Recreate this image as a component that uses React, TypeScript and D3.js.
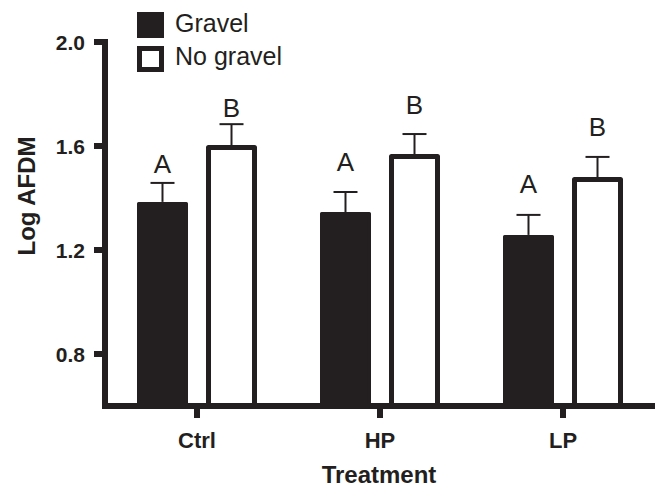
import React from 'react';
import { scaleBand, scaleLinear } from 'd3';

const treatments = ['Ctrl', 'HP', 'LP'];
const groups = ['Gravel', 'No gravel'];
const gravelMeans = [1.385, 1.346, 1.258];
const gravelSE = [0.073, 0.077, 0.077];
const noGravelMeans = [1.594, 1.56, 1.471];
const noGravelSE = [0.09, 0.086, 0.087];
const gravelLetters = ['A', 'A', 'A'];
const noGravelLetters = ['B', 'B', 'B'];
// level (in data units) where each letter sits
const gravelLetterAt = [1.496, 1.504, 1.419];
const noGravelLetterAt = [1.712, 1.723, 1.638];
const yTicks = [0.8, 1.2, 1.6, 2.0];

const ink = '#231f20';
const font = '"Liberation Sans", Arial, sans-serif';

const App = () => {
    const width = 655;
    const height = 487;

    const y = scaleLinear().domain([0.6, 2.0]).range([406, 42]);
    const x = scaleBand().domain(treatments).range([105.5, 654.5]).padding(0);
    const inner = scaleBand().domain(groups).range([-60, 60]).paddingInner(0.261).paddingOuter(0);
    const bw = inner.bandwidth();
    const base = y(0.6);

    const series = [
        { key: groups[0], means: gravelMeans, se: gravelSE, letters: gravelLetters, at: gravelLetterAt },
        { key: groups[1], means: noGravelMeans, se: noGravelSE, letters: noGravelLetters, at: noGravelLetterAt },
    ];

    return (
        <svg width={width} height={height} style={{ position: 'absolute', left: 0, top: 0 }}>
            <rect width={width} height={height} fill="white" />

            {/* bars */}
            {series.map((s, si) =>
                treatments.map((t, i) => {
                    const cx = (x(t) as number) + x.bandwidth() / 2;
                    const bx = cx + (inner(s.key) as number);
                    const top = y(s.means[i]);
                    const mid = bx + bw / 2;
                    const capW = 24;
                    const errTop = y(s.means[i] + s.se[i]);
                    return (
                        <g key={s.key + t}>
                            <line x1={mid} x2={mid} y1={top} y2={errTop} stroke={ink} strokeWidth={2} />
                            <line x1={mid - capW / 2} x2={mid + capW / 2} y1={errTop} y2={errTop} stroke={ink} strokeWidth={2} />
                            {si === 0 ? (
                                <rect x={bx + 1.5} y={top + 1.5} width={bw - 3} height={base - top} fill={ink}
                                    stroke={ink} strokeWidth={3} strokeLinejoin="round" />
                            ) : (
                                <rect x={bx + 2.5} y={top} width={bw - 5} height={base - top} fill="white"
                                    stroke={ink} strokeWidth={5} strokeLinejoin="round" />
                            )}
                            <text x={mid} y={y(s.at[i])} textAnchor="middle" fontFamily={font} fontSize={26} fill={ink}>
                                {s.letters[i]}
                            </text>
                        </g>
                    );
                })
            )}

            {/* y axis */}
            <line x1={105} x2={105} y1={y(2.0) - 3} y2={base + 3} stroke={ink} strokeWidth={6} />
            {yTicks.map(t => (
                <g key={t}>
                    <line x1={94} x2={105} y1={y(t)} y2={y(t)} stroke={ink} strokeWidth={6} />
                    <text x={85} y={y(t)} dy="0.36em" textAnchor="end" fontFamily={font} fontWeight="bold" fontSize={21} fill={ink}>
                        {t.toFixed(1)}
                    </text>
                </g>
            ))}
            <text transform={`translate(35, 196) rotate(-90)`} textAnchor="middle" fontFamily={font} fontWeight="bold" fontSize={24} fill={ink}>
                Log AFDM
            </text>

            {/* x axis */}
            <line x1={102} x2={655} y1={base} y2={base} stroke={ink} strokeWidth={6} />
            {treatments.map(t => {
                const cx = (x(t) as number) + x.bandwidth() / 2;
                return (
                    <g key={t}>
                        <line x1={cx} x2={cx} y1={base} y2={base + 12} stroke={ink} strokeWidth={6} />
                        <text x={cx} y={448} textAnchor="middle" fontFamily={font} fontWeight="bold" fontSize={22} fill={ink}>
                            {t}
                        </text>
                    </g>
                );
            })}
            <text x={379} y={483} textAnchor="middle" fontFamily={font} fontWeight="bold" fontSize={24} fill={ink}>
                Treatment
            </text>

            {/* legend */}
            <rect x={137} y={12} width={27} height={26} fill={ink} />
            <text x={175} y={32} fontFamily={font} fontSize={25} fill={ink}>{groups[0]}</text>
            <rect x={139.5} y={48.5} width={22} height={21} fill="white" stroke={ink} strokeWidth={5} />
            <text x={175} y={65} fontFamily={font} fontSize={25} fill={ink}>{groups[1]}</text>
        </svg>
    );
};

export default App;
